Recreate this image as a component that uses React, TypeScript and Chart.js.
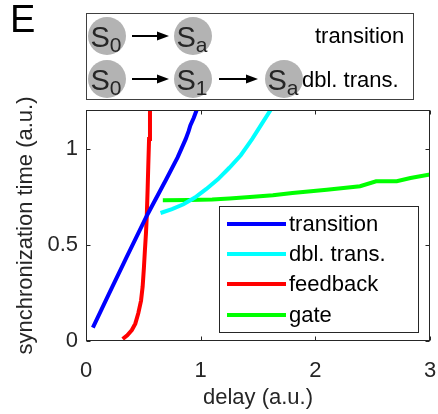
import React, { useEffect, useRef } from "react";
import { Chart, registerables } from "chart.js";

Chart.register(...registerables);

// ---- data ----
const transitionX = [0.06, 0.2, 0.35, 0.535, 0.7, 0.8, 0.87, 0.895, 0.91, 0.94, 0.965];
const transitionY = [0.07, 0.245, 0.43, 0.656, 0.84, 0.955, 1.05, 1.09, 1.12, 1.16, 1.2];

const dblTransX = [0.65, 0.75, 0.85, 0.95, 1.05, 1.15, 1.25, 1.35, 1.45, 1.53, 1.61];
const dblTransY = [0.665, 0.685, 0.71, 0.745, 0.79, 0.84, 0.9, 0.965, 1.05, 1.125, 1.2];

const feedbackX = [0.32, 0.36, 0.4, 0.43, 0.456, 0.48, 0.494, 0.505, 0.514, 0.523, 0.53, 0.537, 0.543, 0.55, 0.558];
const feedbackY = [0.01, 0.03, 0.057, 0.09, 0.144, 0.21, 0.283, 0.38, 0.474, 0.56, 0.647, 0.78, 0.908, 1.05, 1.2];

const gateX = [0.67, 0.9, 1.1, 1.25, 1.43, 1.63, 1.8, 2.1, 2.39, 2.53, 2.71, 2.83, 3.0];
const gateY = [0.731, 0.732, 0.735, 0.74, 0.748, 0.757, 0.769, 0.786, 0.804, 0.83, 0.83, 0.847, 0.865];

const seriesNames = ["transition", "dbl. trans.", "feedback", "gate"];
const seriesColors = ["#0000ff", "#00ffff", "#ff0000", "#00ff00"];

const xTicks = [0, 1, 2, 3];
const yTicks = [0, 0.5, 1];
const xTitle = "delay (a.u.)";
const yTitle = "synchronization time (a.u.)";
const panelLabel = "E";

const schemeRow1States = [["S", "0"], ["S", "a"]];
const schemeRow2States = [["S", "0"], ["S", "1"], ["S", "a"]];
const schemeLabels = ["transition", "dbl. trans."];

const FONT = "'Liberation Sans', Arial, sans-serif";
const INK = "#262626";

function pts(xs: number[], ys: number[]) {
  return xs.map((x, i) => ({ x, y: ys[i] }));
}

function drawArrow(ctx: CanvasRenderingContext2D, x1: number, x2: number, y: number) {
  ctx.save();
  ctx.strokeStyle = "#000";
  ctx.fillStyle = "#000";
  ctx.lineWidth = 2;
  ctx.beginPath();
  ctx.moveTo(x1, y);
  ctx.lineTo(x2 - 8, y);
  ctx.stroke();
  ctx.beginPath();
  ctx.moveTo(x2, y);
  ctx.lineTo(x2 - 12, y - 4.5);
  ctx.lineTo(x2 - 12, y + 4.5);
  ctx.closePath();
  ctx.fill();
  ctx.restore();
}

function drawState(ctx: CanvasRenderingContext2D, cx: number, cy: number, st: string[]) {
  ctx.save();
  ctx.fillStyle = "#b3b3b3";
  ctx.beginPath();
  ctx.arc(cx, cy, 19, 0, Math.PI * 2);
  ctx.fill();
  ctx.fillStyle = INK;
  ctx.textBaseline = "alphabetic";
  ctx.textAlign = "left";
  ctx.font = `29px ${FONT}`;
  const sw = ctx.measureText(st[0]).width;
  ctx.font = `21px ${FONT}`;
  const subw = ctx.measureText(st[1]).width;
  const start = cx - (sw + subw) / 2 - 1;
  ctx.font = `29px ${FONT}`;
  ctx.fillText(st[0], start, cy + 11);
  ctx.font = `21px ${FONT}`;
  ctx.fillText(st[1], start + sw, cy + 16);
  ctx.restore();
}

const decorPlugin = {
  id: "decor",
  afterDatasetsDraw(chart: any) {
    const { ctx, chartArea } = chart;
    const xs = chart.scales.x;
    const ys = chart.scales.y;
    const l = Math.round(chartArea.left) + 0.5;
    const r = Math.round(chartArea.right) - 0.5;
    const t = Math.round(chartArea.top) + 0.5;
    const b = Math.round(chartArea.bottom) - 0.5;
    ctx.save();
    ctx.strokeStyle = INK;
    ctx.lineWidth = 1;
    ctx.strokeRect(l, t, r - l, b - t);
    ctx.beginPath();
    const tl = 4;
    xTicks.forEach((v) => {
      const px = Math.round(xs.getPixelForValue(v)) + 0.5;
      ctx.moveTo(px, b);
      ctx.lineTo(px, b - tl);
      ctx.moveTo(px, t);
      ctx.lineTo(px, t + tl);
    });
    yTicks.forEach((v) => {
      const py = Math.round(ys.getPixelForValue(v)) + 0.5;
      ctx.moveTo(l, py);
      ctx.lineTo(l + tl, py);
      ctx.moveTo(r, py);
      ctx.lineTo(r - tl, py);
    });
    ctx.stroke();
    ctx.restore();
  },
  afterDraw(chart: any) {
    const { ctx } = chart;
    ctx.save();
    // legend
    const lx = 219.5, ly = 206.5, lw = 199, lh = 126;
    ctx.fillStyle = "#fff";
    ctx.fillRect(lx, ly, lw, lh);
    ctx.strokeStyle = INK;
    ctx.lineWidth = 1;
    ctx.strokeRect(lx, ly, lw, lh);
    const rowY = [224, 254, 284, 315];
    chart.data.datasets.forEach((ds: any, i: number) => {
      ctx.strokeStyle = ds.borderColor;
      ctx.lineWidth = 4;
      ctx.beginPath();
      ctx.moveTo(227, rowY[i]);
      ctx.lineTo(286, rowY[i]);
      ctx.stroke();
      ctx.fillStyle = "#000";
      ctx.font = `22px ${FONT}`;
      ctx.textBaseline = "middle";
      ctx.textAlign = "left";
      ctx.fillText(ds.label, 289, rowY[i] + 1);
    });

    // panel label
    ctx.fillStyle = "#000";
    ctx.textBaseline = "alphabetic";
    ctx.font = `38px ${FONT}`;
    ctx.fillText(panelLabel, 10, 32);

    // scheme box
    ctx.strokeStyle = "#404040";
    ctx.lineWidth = 1;
    ctx.strokeRect(86.5, 13.5, 327, 86);
    const r1 = 36, r2 = 79;
    const c1 = [107, 193];
    const c2 = [107, 193, 284];
    schemeRow1States.forEach((st, i) => drawState(ctx, c1[i], r1, st));
    schemeRow2States.forEach((st, i) => drawState(ctx, c2[i], r2, st));
    drawArrow(ctx, 132, 169, r1);
    drawArrow(ctx, 132, 169, r2);
    drawArrow(ctx, 219, 258, r2);
    ctx.fillStyle = "#000";
    ctx.font = `22px ${FONT}`;
    ctx.textBaseline = "alphabetic";
    ctx.fillText(schemeLabels[0], 315, 43);
    ctx.fillText(schemeLabels[1], 302, 87);
    ctx.restore();
  },
};

export default function App() {
  const ref = useRef<HTMLCanvasElement>(null);
  useEffect(() => {
    if (!ref.current) return;
    const series = [
      pts(transitionX, transitionY),
      pts(dblTransX, dblTransY),
      pts(feedbackX, feedbackY),
      pts(gateX, gateY),
    ];
    const chart = new Chart(ref.current, {
      type: "scatter",
      data: {
        datasets: series.map((d, i) => ({
          label: seriesNames[i],
          data: d,
          showLine: true,
          borderColor: seriesColors[i],
          backgroundColor: seriesColors[i],
          borderWidth: 4,
          pointRadius: 0,
          pointHoverRadius: 0,
          tension: 0,
          clip: 0,
        })),
      },
      options: {
        responsive: false,
        animation: false,
        devicePixelRatio: 1,
        events: [],
        layout: { padding: { top: 110, right: 8, bottom: 0, left: 0 } },
        plugins: { legend: { display: false }, tooltip: { enabled: false } },
        scales: {
          x: {
            type: "linear",
            min: 0,
            max: 3,
            afterBuildTicks: (s: any) => {
              s.ticks = xTicks.map((v) => ({ value: v }));
            },
            afterFit: (s: any) => {
              s.height = 73;
              s.paddingLeft = 0;
              s.paddingRight = 0;
            },
            grid: { display: false, drawTicks: false },
            border: { display: false },
            ticks: {
              color: INK,
              font: { family: FONT, size: 22 },
              padding: 17,
              maxRotation: 0,
              callback: (v: any) => String(v),
            },
            title: {
              display: true,
              text: xTitle,
              color: INK,
              font: { family: FONT, size: 22 },
              padding: { top: 0, bottom: 3 },
            },
          },
          y: {
            type: "linear",
            min: 0,
            max: 1.2,
            afterBuildTicks: (s: any) => {
              s.ticks = yTicks.map((v) => ({ value: v }));
            },
            afterFit: (s: any) => {
              s.width = 86;
              s.paddingTop = 0;
              s.paddingBottom = 0;
            },
            grid: { display: false, drawTicks: false },
            border: { display: false },
            ticks: {
              color: INK,
              font: { family: FONT, size: 22 },
              padding: 8,
              callback: (v: any) => String(v),
            },
            title: {
              display: true,
              text: yTitle,
              color: INK,
              font: { family: FONT, size: 22 },
              padding: { top: 13, bottom: 0 },
            },
          },
        },
      },
      plugins: [decorPlugin],
    });
    return () => chart.destroy();
  }, []);
  return (
    <div style={{ position: "absolute", left: 0, top: 0, width: 438, height: 414, background: "#fff" }}>
      <canvas ref={ref} width={438} height={414} style={{ display: "block" }} />
    </div>
  );
}
